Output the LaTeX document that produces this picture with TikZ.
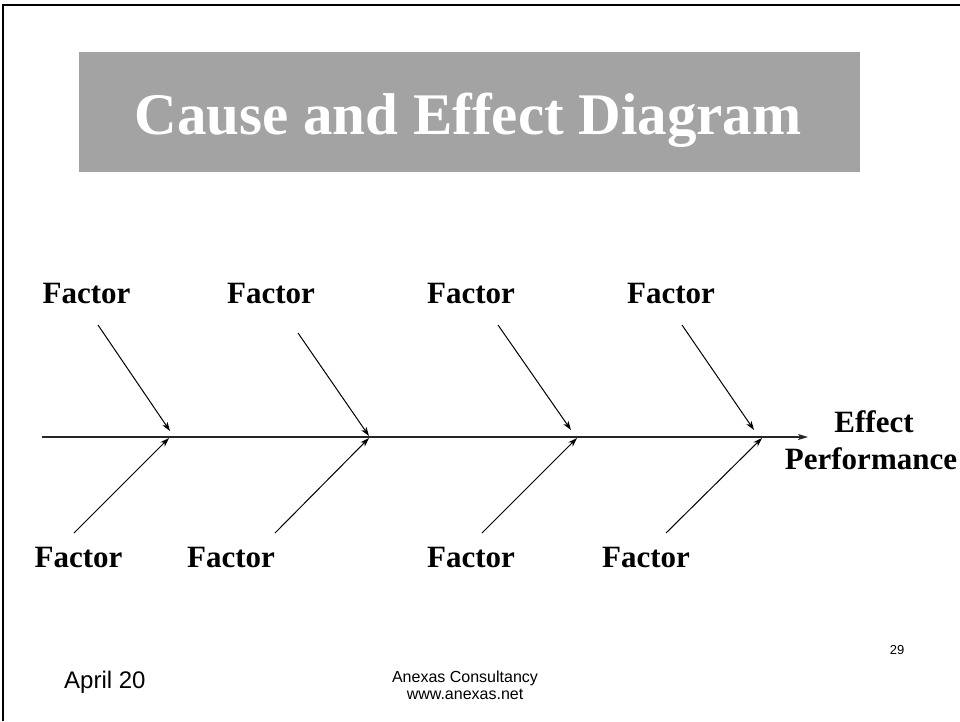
\documentclass[tikz,border=0pt]{standalone}
\usepackage{fontspec}
\setmainfont{Liberation Serif}
\setsansfont{Liberation Sans}
\usetikzlibrary{arrows.meta}
\usepackage{xcolor}
\definecolor{titlegray}{HTML}{A3A3A3}

\begin{document}
\begin{tikzpicture}[
    x=1pt,
    y=-1pt,
    factor/.style={
        font=\fontsize{31}{36}\selectfont\bfseries,
        anchor=base,
        inner sep=0pt,
    },
    bone/.style={
        draw=black,
        line width=1pt,
        -{Stealth[length=9pt,width=6pt,inset=2.5pt]},
    },
    spine/.style={
        draw=black!85,
        line width=1.4pt,
        -{Stealth[length=10pt,width=6pt,inset=2.5pt]},
    },
    footer/.style={
        font=\sffamily,
        anchor=base,
        inner sep=0pt,
    },
]

\useasboundingbox (0,0) rectangle (960,721);
\draw[line width=1.6pt] (2.7,721) -- (2.7,5) -- (960,5);

% title bar
\node[fill=titlegray, minimum width=781pt, minimum height=120pt, inner sep=0pt] (bar) at (469.5,112) {};
\node[anchor=base, inner sep=0pt, text=white, font=\fontsize{59}{66}\selectfont\bfseries] (title) at (468,134) {Cause and Effect Diagram};

% spine
\coordinate (tail) at (42,437);
\coordinate (head) at (808,437);
\draw[spine] (tail) -- (head);

% effect
\node[factor] (effect) at (874,432) {Effect};
\node[factor] (perf) at (871,469) {Performance};

% factors above the spine
\node[factor] (F1) at (86.5,303) {Factor};
\node[factor] (F2) at (271,303) {Factor};
\node[factor] (F3) at (471,303) {Factor};
\node[factor] (F4) at (671,303) {Factor};

% factors below the spine
\node[factor] (F5) at (78.5,567) {Factor};
\node[factor] (F6) at (231,567) {Factor};
\node[factor] (F7) at (471,567) {Factor};
\node[factor] (F8) at (646,567) {Factor};

% bone ends
\coordinate (u1) at (98,325);
\coordinate (u2) at (298,333);
\coordinate (u3) at (498,325);
\coordinate (u4) at (682,325);
\coordinate (j1) at (170,431);
\coordinate (j2) at (369,436);
\coordinate (j3) at (571,430);
\coordinate (j4) at (754,430);
\coordinate (d1) at (74,533);
\coordinate (d2) at (275,533);
\coordinate (d3) at (482,533);
\coordinate (d4) at (666,533);
\coordinate (k1) at (169,438);
\coordinate (k2) at (369,438);
\coordinate (k3) at (577,438);
\coordinate (k4) at (762,438);

\draw[bone] (u1) -- (j1);
\draw[bone] (u2) -- (j2);
\draw[bone] (u3) -- (j3);
\draw[bone] (u4) -- (j4);
\draw[bone] (d1) -- (k1);
\draw[bone] (d2) -- (k2);
\draw[bone] (d3) -- (k3);
\draw[bone] (d4) -- (k4);

% footer
\node[footer, anchor=base west, font=\sffamily\fontsize{24}{28}\selectfont] (date) at (64,688) {April 20};
\node[footer, font=\sffamily\fontsize{16}{18}\selectfont] (firm) at (465,682) {Anexas Consultancy};
\node[footer, font=\sffamily\fontsize{16}{18}\selectfont] (web) at (465,699) {www.anexas.net};
\node[footer, font=\sffamily\fontsize{13}{15}\selectfont] (page) at (897,654) {29};

\end{tikzpicture}
\end{document}
